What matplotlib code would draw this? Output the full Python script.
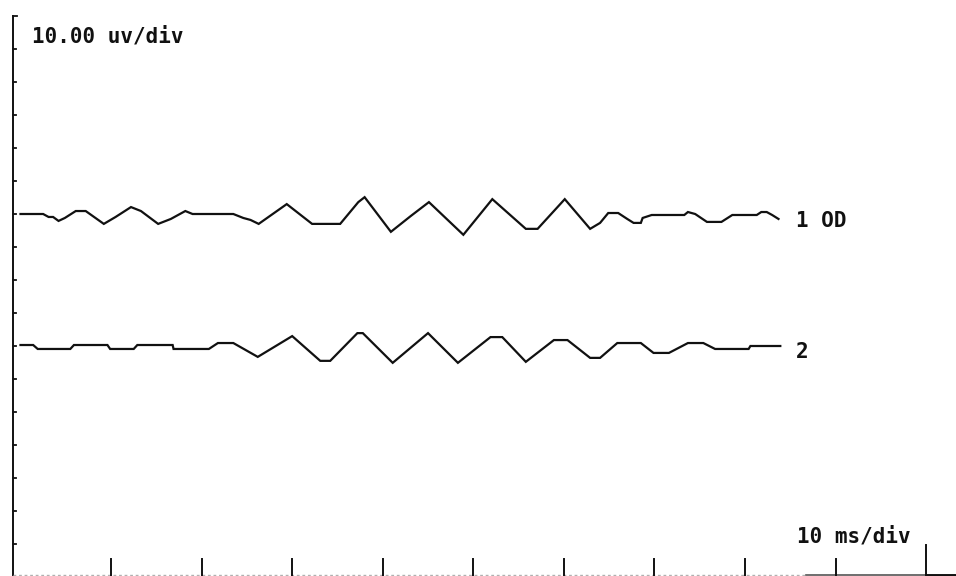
import matplotlib
matplotlib.use("Agg")
import matplotlib.pyplot as plt

# Channel 1 (OD): vertices of the recorded trace, time in ms, amplitude in uV
ch1_time = [0, 2.5, 3.1, 3.6, 4.2, 4.9, 6.1, 7.2, 9.2, 10.5,
            12.2, 13.3, 15.2, 16.6, 18.2, 19.0, 23.5, 24.6, 25.4, 26.3,
            29.4, 32.2, 35.3, 37.3, 38.0, 40.9, 43.1, 45.1, 48.9, 52.1,
            55.8, 57.1, 60.1, 62.9, 64.0, 64.9, 66.0, 67.0, 67.7, 68.5,
            68.7, 69.7, 73.3, 73.7, 74.5, 75.8, 77.4, 78.6, 81.3, 81.8,
            82.4, 83.0, 83.7]
ch1_uv = [0, 0, -0.9, -0.9, -2.1, -1.2, 0.9, 0.9, -3.0, -0.9,
          2.1, 0.9, -3.0, -1.5, 0.9, 0, 0, -1.2, -1.8, -3.0,
          3.0, -3.0, -3.0, 3.6, 5.1, -5.4, -0.6, 3.6, -6.3, 4.5,
          -4.5, -4.5, 4.5, -4.5, -2.7, 0.3, 0.3, -1.5, -2.7, -2.7,
          -1.2, -0.3, -0.3, 0.6, 0, -2.4, -2.4, -0.3, -0.3, 0.6,
          0.6, -0.3, -1.5]

# Channel 2
ch2_time = [0, 1.4, 1.9, 5.5, 5.9, 9.6, 9.9, 12.5, 12.9, 16.8,
            16.9, 20.8, 21.8, 23.5, 26.2, 30.0, 33.1, 34.2, 37.2, 37.8,
            41.1, 45.0, 48.3, 51.9, 53.2, 55.8, 58.9, 60.4, 62.9, 64.0,
            65.9, 68.5, 69.9, 71.6, 73.7, 75.4, 76.7, 80.4, 80.6, 83.9]
ch2_uv = [0.3, 0.3, -0.9, -0.9, 0.3, 0.3, -0.9, -0.9, 0.3, 0.3,
          -0.9, -0.9, 0.9, 0.9, -3.3, 3.0, -4.5, -4.5, 3.9, 3.9,
          -5.1, 3.9, -5.1, 2.7, 2.7, -4.8, 1.8, 1.8, -3.6, -3.6,
          0.9, 0.9, -2.1, -2.1, 0.9, 0.9, -0.9, -0.9, 0, 0]

channel_labels = ["1 OD", "2"]
channel_offsets_uv = [110, 70]   # trace baselines on the screen grid
volt_scale = "10.00 uv/div"
time_scale = "10 ms/div"
uv_per_div = 10
ms_per_div = 10
n_vdiv = 17
n_tdiv = 10

# ---- screen geometry (pixels -> data) ----
W, H = 956, 576
px_per_ms = 9.056
px_per_uv = 3.3
t0_px = 20.5
v0_px = 577.0

def tx(px):
    return (px - t0_px) / px_per_ms

def vy(px_from_top):
    return (v0_px - px_from_top) / px_per_uv

fig = plt.figure(figsize=(W / 100, H / 100), dpi=100)
ax = fig.add_axes([0, 0, 1, 1])
ax.set_xlim(tx(0), tx(W))
ax.set_ylim(vy(H), vy(0))
ax.axis("off")

ink = "#111111"
font = dict(family=["DejaVu Sans Mono"], fontsize=15, fontweight="bold", color=ink)

# traces
for t, v, off in zip([ch1_time, ch2_time], [ch1_uv, ch2_uv], channel_offsets_uv):
    ax.plot(t, [off + a for a in v], color=ink, lw=1.6, solid_joinstyle="miter")

# left (amplitude) scale with division marks
xs = tx(13)
top_v = n_vdiv * uv_per_div
ax.plot([xs, xs], [0, top_v], color=ink, lw=1.4)
for k in range(1, n_vdiv):
    ax.plot([xs, tx(16)], [k * uv_per_div] * 2, color=ink, lw=1.3)
ax.plot([xs, tx(17)], [top_v, top_v], color=ink, lw=1.3)

# bottom (time) scale
base_v = vy(575)
ax.plot([xs, tx(806)], [base_v, base_v], color="#b0b0b0", lw=1.0, ls=(0, (2, 2)))
ax.plot([tx(806), tx(W)], [base_v, base_v], color="#555555", lw=1.2)
ax.plot([n_tdiv * ms_per_div, tx(W)], [base_v, base_v], color=ink, lw=2.0)
for k in range(1, n_tdiv):
    ax.plot([k * ms_per_div] * 2, [0, vy(559)], color=ink, lw=1.4)
ax.plot([n_tdiv * ms_per_div] * 2, [0, vy(545)], color=ink, lw=1.4)

# scale annotations and channel labels
ax.text(tx(32), vy(42), volt_scale, ha="left", va="baseline", **font)
ax.text(tx(797), vy(542), time_scale, ha="left", va="baseline", **font)
ax.text(tx(796), vy(227), channel_labels[0], ha="left", va="baseline", **font)
ax.text(tx(796), vy(358), channel_labels[1], ha="left", va="baseline", **font)

fig.savefig("out.png", dpi=100, facecolor="white")
